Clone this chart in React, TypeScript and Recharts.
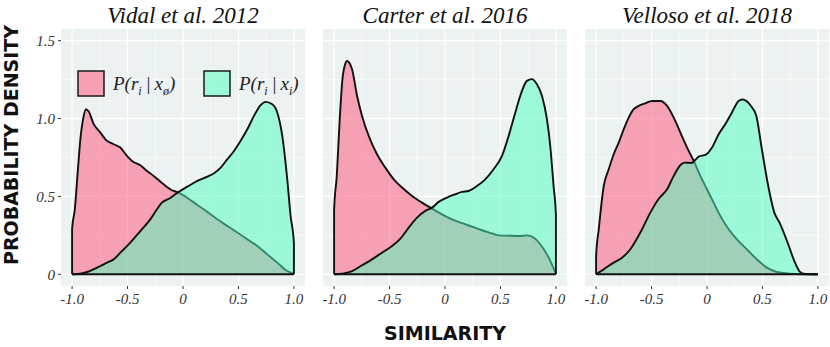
import * as React from "react";
import { ComposedChart, Area, Line, XAxis, YAxis, CartesianGrid } from "recharts";

// tick values shared by all three panels
const xTicks = [-1, -0.5, 0, 0.5, 1];
const yTicks = [0, 0.5, 1, 1.5];
const xMinor = [-0.75, -0.25, 0.25, 0.75];
const yMinor = [0.25, 0.75, 1.25];

const titles = ["Vidal et al. 2012", "Carter et al. 2016", "Velloso et al. 2018"];

// Vidal et al. 2012
const vidalNegX = [-1, -1, -0.975, -0.95, -0.925, -0.9, -0.875, -0.85, -0.805, -0.745, -0.7, -0.625, -0.565, -0.505, -0.46, -0.385, -0.325, -0.265, -0.175, -0.085, -0.04, 0.04, 0.13, 0.22, 0.31, 0.4, 0.49, 0.58, 0.67, 0.76, 0.85, 0.94, 1];
const vidalNegY = [0, 0.29, 0.42, 0.65, 0.87, 1.0, 1.06, 1.045, 0.964, 0.91, 0.867, 0.835, 0.814, 0.76, 0.728, 0.7, 0.664, 0.632, 0.578, 0.535, 0.525, 0.49, 0.445, 0.4, 0.353, 0.31, 0.268, 0.225, 0.182, 0.128, 0.075, 0.021, 0.003];
const vidalPosX = [-1, -0.925, -0.865, -0.775, -0.685, -0.625, -0.565, -0.475, -0.385, -0.295, -0.235, -0.19, -0.115, -0.04, 0.04, 0.13, 0.22, 0.28, 0.34, 0.4, 0.46, 0.52, 0.58, 0.64, 0.7, 0.745, 0.805, 0.85, 0.895, 0.94, 0.97, 1, 1];
const vidalPosY = [0, 0.004, 0.015, 0.043, 0.075, 0.096, 0.139, 0.203, 0.278, 0.353, 0.418, 0.46, 0.49, 0.529, 0.563, 0.6, 0.627, 0.649, 0.685, 0.739, 0.792, 0.857, 0.931, 1.017, 1.086, 1.107, 1.092, 1.039, 0.889, 0.61, 0.375, 0.2, 0];

// Carter et al. 2016
const carterNegX = [-1, -1, -0.975, -0.95, -0.925, -0.9, -0.883, -0.86, -0.838, -0.793, -0.748, -0.688, -0.613, -0.538, -0.462, -0.387, -0.297, -0.207, -0.117, -0.027, 0.063, 0.153, 0.243, 0.333, 0.423, 0.483, 0.574, 0.664, 0.739, 0.799, 0.859, 0.919, 0.964, 1];
const carterNegY = [0, 0.41, 0.64, 0.985, 1.25, 1.35, 1.37, 1.355, 1.317, 1.146, 1.017, 0.889, 0.771, 0.685, 0.61, 0.557, 0.503, 0.46, 0.422, 0.385, 0.353, 0.328, 0.306, 0.283, 0.263, 0.25, 0.248, 0.246, 0.25, 0.236, 0.193, 0.128, 0.064, 0.003];
const carterPosX = [-1, -0.928, -0.838, -0.748, -0.658, -0.568, -0.477, -0.402, -0.327, -0.252, -0.177, -0.117, -0.057, 0.018, 0.093, 0.153, 0.213, 0.288, 0.363, 0.438, 0.514, 0.574, 0.634, 0.694, 0.739, 0.784, 0.829, 0.874, 0.919, 0.949, 0.979, 1, 1];
const carterPosY = [0, 0.004, 0.021, 0.058, 0.096, 0.139, 0.182, 0.229, 0.3, 0.364, 0.407, 0.428, 0.465, 0.493, 0.514, 0.529, 0.535, 0.567, 0.61, 0.675, 0.76, 0.889, 1.039, 1.178, 1.242, 1.253, 1.22, 1.146, 0.996, 0.824, 0.567, 0.38, 0];

// Velloso et al. 2018
const vellosoNegX = [-1, -1, -0.976, -0.931, -0.886, -0.841, -0.796, -0.751, -0.706, -0.661, -0.616, -0.556, -0.496, -0.42, -0.36, -0.3, -0.24, -0.18, -0.12, -0.06, 0, 0.06, 0.12, 0.195, 0.27, 0.36, 0.45, 0.54, 0.63, 0.75, 1];
const vellosoNegY = [0, 0.118, 0.289, 0.567, 0.675, 0.771, 0.846, 0.931, 1.006, 1.06, 1.081, 1.098, 1.113, 1.113, 1.081, 1.006, 0.91, 0.814, 0.728, 0.632, 0.546, 0.46, 0.375, 0.289, 0.225, 0.16, 0.096, 0.043, 0.015, 0.004, 0];
const vellosoPosX = [-1, -0.931, -0.841, -0.766, -0.691, -0.601, -0.511, -0.435, -0.36, -0.3, -0.235, -0.2, -0.14, -0.075, -0.01, 0.045, 0.105, 0.17, 0.225, 0.285, 0.32, 0.396, 0.445, 0.49, 0.55, 0.607, 0.655, 0.727, 0.787, 0.832, 0.871, 1];
const vellosoPosY = [0, 0.032, 0.075, 0.107, 0.161, 0.268, 0.396, 0.485, 0.546, 0.632, 0.705, 0.717, 0.715, 0.756, 0.768, 0.814, 0.899, 0.97, 1.039, 1.113, 1.122, 1.081, 1.017, 0.824, 0.575, 0.396, 0.33, 0.203, 0.086, 0.021, 0.004, 0];

const zip = (xs: number[], ys: number[]) => xs.map((x, i) => ({ x, y: ys[i] }));

const panels = [
  { neg: zip(vidalNegX, vidalNegY), pos: zip(vidalPosX, vidalPosY) },
  { neg: zip(carterNegX, carterNegY), pos: zip(carterPosX, carterPosY) },
  { neg: zip(vellosoNegX, vellosoNegY), pos: zip(vellosoPosX, vellosoPosY) },
];

const PINK = "#FF4F75";
const GREEN = "#4BFFBD";
const PANEL_BG = "#ECF1F1";
const serif = "'Liberation Serif', 'DejaVu Serif', serif";
const sans = "'DejaVu Sans', sans-serif";

const plotW = 244;
const yAxisW = 61;
const chartH = 316;
const lefts = [0, 323, 585];

const fmtX = (v: number) => (v === 0 ? "0" : v.toFixed(1));
const fmtY = (v: number) => (v === 0 ? "0" : v.toFixed(1));

function Panel({ idx }: { idx: number }) {
  const { neg, pos } = panels[idx];
  const showY = idx === 0;
  const xs = [...neg, ...pos].map((d) => d.x);
  const baseLine = [
    { x: Math.min(...xs), y: 0 },
    { x: Math.max(...xs), y: 0 },
  ];
  const tickStyle = { fontFamily: serif, fontStyle: "italic", fontSize: 15, fill: "#333" };
  return (
    <div style={{ position: "absolute", left: lefts[idx], top: 0 }}>
      <ComposedChart
        width={(showY ? yAxisW : 0) + plotW}
        height={chartH}
        margin={{ top: 29, right: 0, bottom: 0, left: 0 }}
      >
        <CartesianGrid
          fill={PANEL_BG}
          stroke="#ffffff"
          strokeWidth={0.6}
          verticalValues={xMinor}
          horizontalValues={yMinor}
        />
        <CartesianGrid
          stroke="#ffffff"
          strokeWidth={1.3}
          verticalValues={xTicks}
          horizontalValues={yTicks}
        />
        <XAxis
          type="number"
          dataKey="x"
          domain={[-1.1, 1.1]}
          allowDataOverflow
          ticks={xTicks}
          tickFormatter={fmtX}
          axisLine={false}
          tickLine={{ stroke: "#333" }}
          tickSize={3}
          tickMargin={4}
          height={30}
          tick={tickStyle}
          interval={0}
        />
        <YAxis
          type="number"
          dataKey="y"
          domain={[-0.075, 1.575]}
          allowDataOverflow
          ticks={yTicks}
          tickFormatter={fmtY}
          axisLine={false}
          tickLine={{ stroke: "#333" }}
          tickSize={3}
          tickMargin={3}
          width={yAxisW}
          tick={tickStyle}
          hide={!showY}
          interval={0}
        />
        <Area
          data={neg}
          dataKey="y"
          type="monotone"
          baseValue={0}
          fill={PINK}
          fillOpacity={0.5}
          stroke="#111"
          strokeWidth={1.9}
          dot={false}
          activeDot={false}
          isAnimationActive={false}
        />
        <Area
          data={pos}
          dataKey="y"
          type="monotone"
          baseValue={0}
          fill={GREEN}
          fillOpacity={0.5}
          stroke="#111"
          strokeWidth={1.9}
          dot={false}
          activeDot={false}
          isAnimationActive={false}
        />
        <Line
          data={baseLine}
          dataKey="y"
          type="linear"
          stroke="#111"
          strokeWidth={2}
          dot={false}
          activeDot={false}
          isAnimationActive={false}
        />
      </ComposedChart>
    </div>
  );
}

function LegendLabel({ x, y, sub }: { x: number; y: number; sub: string }) {
  return (
    <text x={x} y={y} fontFamily={serif} fontStyle="italic" fontSize={19} fill="#222">
      <tspan>P(r</tspan>
      <tspan dy={5} fontSize={12}>i</tspan>
      <tspan dy={-5}>{"\u2009|\u2009x"}</tspan>
      <tspan dy={5} fontSize={12}>{sub}</tspan>
      <tspan dy={-5}>)</tspan>
    </text>
  );
}

export default function App() {
  return (
    <div
      style={{
        position: "absolute",
        left: 0,
        top: 0,
        width: 830,
        height: 347,
        background: "#fff",
        overflow: "hidden",
      }}
    >
      {panels.map((_, i) => (
        <Panel key={i} idx={i} />
      ))}
      <svg
        width={830}
        height={347}
        style={{ position: "absolute", left: 0, top: 0, pointerEvents: "none" }}
      >
        {titles.map((t, i) => (
          <text
            key={t}
            x={lefts[i] + (i === 0 ? yAxisW : 0) + plotW / 2}
            y={23}
            textAnchor="middle"
            fontFamily={serif}
            fontStyle="italic"
            fontSize={23}
            fill="#111"
          >
            {t}
          </text>
        ))}
        <rect x={78} y={71} width={26} height={25} fill={PINK} fillOpacity={0.5} stroke="#1a1a1a" strokeWidth={1.5} />
        <LegendLabel x={113} y={90} sub="ø" />
        <rect x={204} y={71} width={26} height={25} fill={GREEN} fillOpacity={0.5} stroke="#1a1a1a" strokeWidth={1.5} />
        <LegendLabel x={239} y={90} sub="i" />
        <text
          transform="translate(18,145) rotate(-90)"
          textAnchor="middle"
          fontFamily={sans}
          fontWeight="bold"
          fontSize={19}
          fill="#111"
        >
          PROBABILITY DENSITY
        </text>
        <text
          x={445}
          y={340}
          textAnchor="middle"
          fontFamily={sans}
          fontWeight="bold"
          fontSize={19}
          fill="#111"
        >
          SIMILARITY
        </text>
      </svg>
    </div>
  );
}
